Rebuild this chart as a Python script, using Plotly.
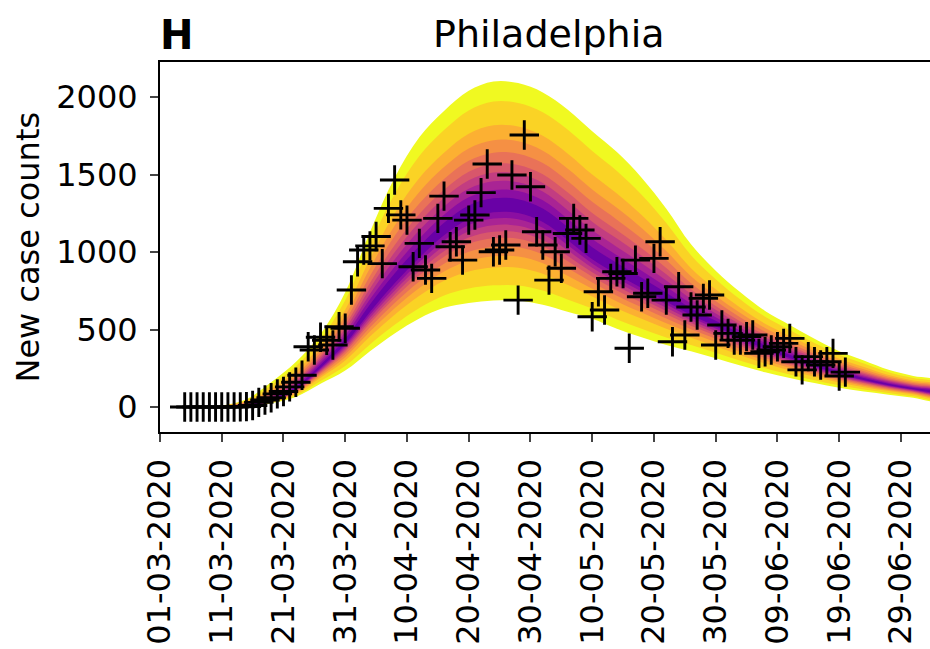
import pandas as pd
import plotly.graph_objects as go
import plotly.express as px

# ---------------- data ----------------
obs_start = "2020-03-05"
cases = [0, 0, 0, 0, 0, 0, 0, 0, 0, 1, 3, 10, 30, 45, 60, 85, 100, 130, 160, 205,
         389, 368, 450, 430, 400, 518, 508, 755, 937, 1013, 1040, 1100, 925, 1282, 1465,
         1240, 1206, 905, 1056, 884, 830, 1217, 1361, 1034, 1066, 948, 1206, 1239, 1383,
         1568, 1002, 1013, 1045, 1497, 690, 1755, 1421, 1131, 1045, 819, 1002, 895, 1120,
         1217, 1142, 1088, 583, 744, 626, 830, 873, 862, 379, 948, 712, 734, 959, 1066,
         690, 421, 776, 465, 645, 594, 701, 723, 400, 529, 475, 432, 432, 454, 465, 346,
         357, 368, 389, 411, 443, 292, 240, 325, 292, 271, 292, 346, 200, 225]

band_start = "2020-03-03"
band_step_days = 4
band_median = [0, 1, 4, 12, 40, 120, 260, 420, 630, 820, 990, 1140, 1250, 1295, 1290, 1230,
               1110, 980, 880, 790, 700, 610, 535, 455, 385, 325, 270, 220, 180, 145, 118, 95]
band_upper = [0, 2, 10, 50, 160, 290, 470, 740, 1130, 1480, 1740, 1910, 2040, 2100, 2090, 2030,
              1920, 1780, 1645, 1480, 1280, 1050, 880, 740, 620, 530, 440, 360, 300, 240, 200, 165]
band_lower = [0, 0, 2, 6, 25, 65, 150, 235, 360, 475, 572, 640, 672, 688, 688, 660,
              615, 570, 505, 450, 400, 360, 315, 268, 225, 188, 155, 125, 100, 80, 60, 42]
# relative width of each credible band (outer -> inner), as fraction of the outer band
band_fracs = [1.0, 0.84, 0.65, 0.53, 0.43, 0.34, 0.27, 0.20, 0.13, 0.064]

tick_dates = ["2020-03-01", "2020-03-11", "2020-03-21", "2020-03-31", "2020-04-10",
              "2020-04-20", "2020-04-30", "2020-05-10", "2020-05-20", "2020-05-30",
              "2020-06-09", "2020-06-19", "2020-06-29"]
tick_labels = ["01-03-2020", "11-03-2020", "21-03-2020", "31-03-2020", "10-04-2020",
               "20-04-2020", "30-04-2020", "10-05-2020", "20-05-2020", "30-05-2020",
               "09-06-2020", "19-06-2020", "29-06-2020"]
y_ticks = [0, 500, 1000, 1500, 2000]

title = "Philadelphia"
panel = "H"
y_title = "New case counts"

# ---------------- figure ----------------
obs_dates = pd.date_range(obs_start, periods=len(cases), freq="D")
band_dates = list(pd.date_range(band_start, periods=len(band_median), freq=f"{band_step_days}D"))

n = len(band_fracs)
colors = px.colors.sample_colorscale("Plasma", [1.0 - 0.8 * i / (n - 1) for i in range(n)])

fig = go.Figure()
for f, c in zip(band_fracs, colors):
    up = [m + f * (u - m) for m, u in zip(band_median, band_upper)]
    lo = [m - f * (m - l) for m, l in zip(band_median, band_lower)]
    fig.add_trace(go.Scatter(
        x=band_dates + band_dates[::-1], y=up + lo[::-1],
        fill="toself", fillcolor=c,
        line=dict(width=0, color=c, shape="spline", smoothing=1.0),
        mode="lines", hoverinfo="skip", showlegend=False))

fig.add_trace(go.Scatter(
    x=obs_dates, y=cases, mode="markers", showlegend=False,
    marker=dict(symbol="cross-thin", size=21, color="black",
                line=dict(width=2.9, color="black"))))

font = "DejaVu Sans"
fig.update_layout(
    width=930, height=649,
    margin=dict(l=160, r=0, t=62, b=217, autoexpand=False),
    paper_bgcolor="white", plot_bgcolor="white",
    font=dict(family=font, size=32, color="black"),
    xaxis=dict(type="date", range=["2020-03-01", "2020-07-03 17:00"],
               tickmode="array", tickvals=tick_dates, ticktext=tick_labels,
               tickangle=-90, ticks="outside", ticklen=8, tickwidth=2,
               showline=True, linewidth=2, linecolor="black", mirror=True,
               showgrid=False, zeroline=False, ticklabelstandoff=4,
               tickfont=dict(size=32)),
    yaxis=dict(range=[-161, 2226], tickvals=y_ticks, ticks="outside",
               ticklen=8, tickwidth=2, showline=True, linewidth=2,
               linecolor="black", mirror=False, showgrid=False, zeroline=False,
               ticklabelstandoff=6, tickfont=dict(size=32)),
    annotations=[
        dict(text=title, x=0.505, y=1.075, xref="paper", yref="paper",
             xanchor="center", yanchor="middle", showarrow=False,
             font=dict(family=font, size=38)),
        dict(text="<b>" + panel + "</b>", x=-0.002, y=1.073, xref="paper", yref="paper",
             xanchor="left", yanchor="middle", showarrow=False,
             font=dict(family=font, size=40)),
        dict(text=y_title, x=-0.172, y=0.5, xref="paper", yref="paper",
             xanchor="center", yanchor="middle", textangle=-90, showarrow=False,
             font=dict(family=font, size=32)),
    ],
)

fig.write_html("out.html")
